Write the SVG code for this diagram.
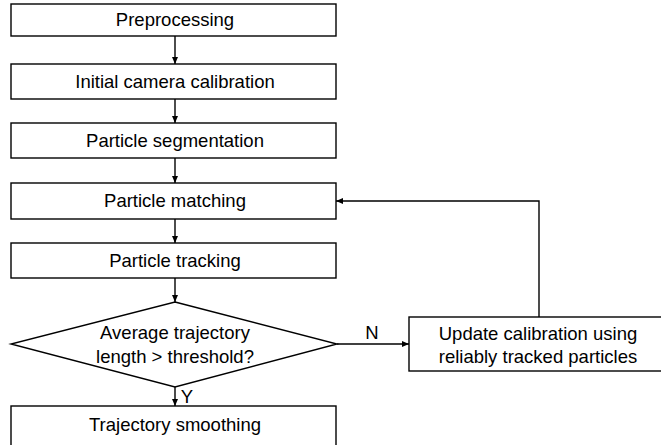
<svg xmlns="http://www.w3.org/2000/svg" width="661" height="445" viewBox="0 0 661 445">
<defs>
<marker id="ah" markerWidth="8" markerHeight="8" refX="7" refY="4" orient="auto" markerUnits="userSpaceOnUse">
<path d="M0,1 L7,4 L0,7 Z" fill="#000"/>
</marker>
<style>
.box{fill:#fff;stroke:#000;stroke-width:1.4}
.t{font-family:"Liberation Sans",Arial,sans-serif;font-size:18.5px;fill:#000;text-anchor:middle}
.c{fill:none;stroke:#000;stroke-width:1.4}
</style>
</defs>
<rect width="661" height="445" fill="#fff"/>
<g id="connectors">
<line class="c" x1="175" y1="36" x2="175" y2="64" marker-end="url(#ah)"/>
<line class="c" x1="175" y1="99" x2="175" y2="123" marker-end="url(#ah)"/>
<line class="c" x1="175" y1="158" x2="175" y2="183" marker-end="url(#ah)"/>
<line class="c" x1="175" y1="219" x2="175" y2="243" marker-end="url(#ah)"/>
<line class="c" x1="175" y1="278" x2="175" y2="302" marker-end="url(#ah)"/>
<line class="c" x1="175" y1="387" x2="175" y2="406" marker-end="url(#ah)"/>
<line class="c" x1="337" y1="344" x2="409" y2="344" marker-end="url(#ah)"/>
<polyline class="c" points="539,317 539,201 336,201" marker-end="url(#ah)"/>
<text class="t" x="187" y="403">Y</text>
<text class="t" x="372" y="339">N</text>
</g>
<g id="preprocessing"><rect class="box" x="11" y="4" width="325" height="32"/><text class="t" x="175" y="26">Preprocessing</text></g>
<g id="calibration"><rect class="box" x="11" y="64" width="325" height="35"/><text class="t" x="175" y="88">Initial camera calibration</text></g>
<g id="segmentation"><rect class="box" x="11" y="123" width="325" height="35"/><text class="t" x="175" y="147">Particle segmentation</text></g>
<g id="matching"><rect class="box" x="11" y="183" width="325" height="36"/><text class="t" x="175" y="207">Particle matching</text></g>
<g id="tracking"><rect class="box" x="11" y="243" width="325" height="35"/><text class="t" x="175" y="267">Particle tracking</text></g>
<g id="decision"><polygon class="box" points="175,302 337,344 175,387 11,344"/><text class="t" x="175" y="339">Average trajectory</text><text class="t" x="175" y="363">length &gt; threshold?</text></g>
<g id="update"><rect class="box" x="409" y="317" width="258" height="54"/><text class="t" x="538" y="340">Update calibration using</text><text class="t" x="538" y="363">reliably tracked particles</text></g>
<g id="smoothing"><rect class="box" x="11" y="406" width="325" height="50"/><text class="t" x="175" y="431">Trajectory smoothing</text></g>
</svg>
